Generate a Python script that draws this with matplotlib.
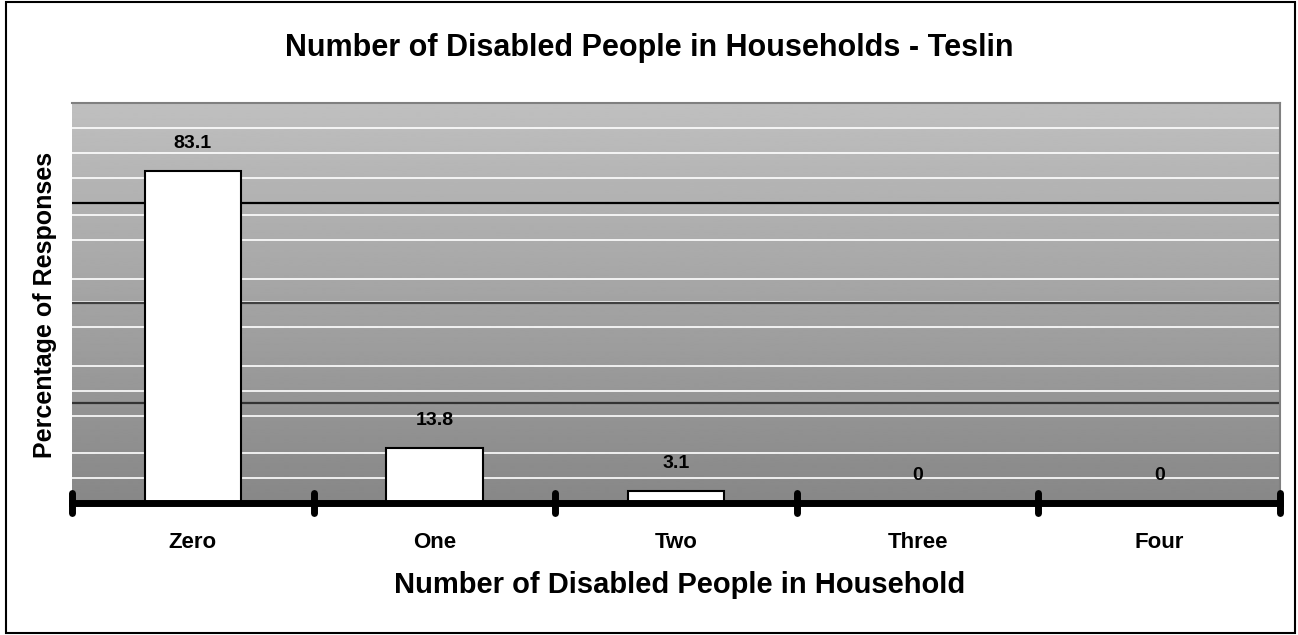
import numpy as np
import matplotlib
matplotlib.use("Agg")
import matplotlib.pyplot as plt
from matplotlib.patches import Rectangle

# Survey data
categories = ["Zero", "One", "Two", "Three", "Four"]
percentages = [83.1, 13.8, 3.1, 0, 0]
value_labels = ["83.1", "13.8", "3.1", "0", "0"]

# Horizontal rules of the plot background
major_rules = [25, 50, 75]
minor_rules = [6.25, 12.5, 21.75, 28, 34.25, 44, 50.25, 56, 65.75, 72, 81.25, 87.5, 93.75]

font = "Liberation Sans"
plt.rcParams["font.family"] = [font, "DejaVu Sans"]

fig = plt.figure(figsize=(12.98, 6.35), dpi=100)
fig.patch.set_facecolor("white")

# outer chart frame
fig.add_artist(Rectangle((0.0046, 0.003), 0.9931, 0.994, transform=fig.transFigure,
                         fill=False, edgecolor="black", linewidth=1.5))

ax = fig.add_axes([0.0555, 0.2079, 0.9306, 0.6299])
n = len(categories)
x = np.arange(n)
ax.set_xlim(-0.5, n - 0.5)

# vertical grey gradient background: light at the top, darker at the bottom
grad = np.linspace(0.75, 0.53, 256).reshape(-1, 1)
ax.imshow(grad, extent=(-0.5, n - 0.5, 0, 100), origin="upper", aspect="auto",
          cmap="gray", vmin=0, vmax=1, zorder=0, interpolation="bilinear")
ax.set_ylim(0, 100)

for v in minor_rules:
    ax.axhline(v, color="white", linewidth=1.2, zorder=1)
for v, c in zip(major_rules, ["#333333", "#404040", "#000000"]):
    ax.axhline(v, color=c, linewidth=1.6, zorder=1.1)

ax.bar(x, percentages, width=0.4, color="white", edgecolor="black",
       linewidth=1.5, zorder=3)

for xi, val, lab in zip(x, percentages, value_labels):
    ax.annotate(lab, (xi, val), xytext=(0, 13.5), textcoords="offset points",
                ha="center", va="bottom", fontsize=14, fontweight="bold",
                color="black", zorder=4)

# plot area frame: grey top/right, none on left
for side in ["top", "right"]:
    ax.spines[side].set_color("#808080")
    ax.spines[side].set_linewidth(1.5)
ax.spines["left"].set_visible(False)
ax.spines["bottom"].set_linewidth(5)
ax.spines["bottom"].set_color("black")
ax.spines["bottom"].set_zorder(5)

ax.set_yticks([])
ax.set_xticks(x)
ax.set_xticklabels(categories, fontsize=16, fontweight="bold")
ax.tick_params(axis="x", length=0, pad=21)

# boundary ticks crossing the axis line
bounds = np.arange(n + 1) - 0.5
ax.vlines(bounds, -2.5, 2.5, colors="black", linewidth=5, capstyle="round",
          clip_on=False, zorder=6)

fig.text(0.5, 0.924, "Number of Disabled People in Households - Teslin",
         ha="center", va="center", fontsize=22, fontweight="bold")
fig.text(0.5235, 0.079, "Number of Disabled People in Household",
         ha="center", va="center", fontsize=21, fontweight="bold")
fig.text(0.0347, 0.52, "Percentage of Responses", ha="center", va="center",
         rotation=90, fontsize=18, fontweight="bold")

fig.savefig("out.png", dpi=100, facecolor="white")
